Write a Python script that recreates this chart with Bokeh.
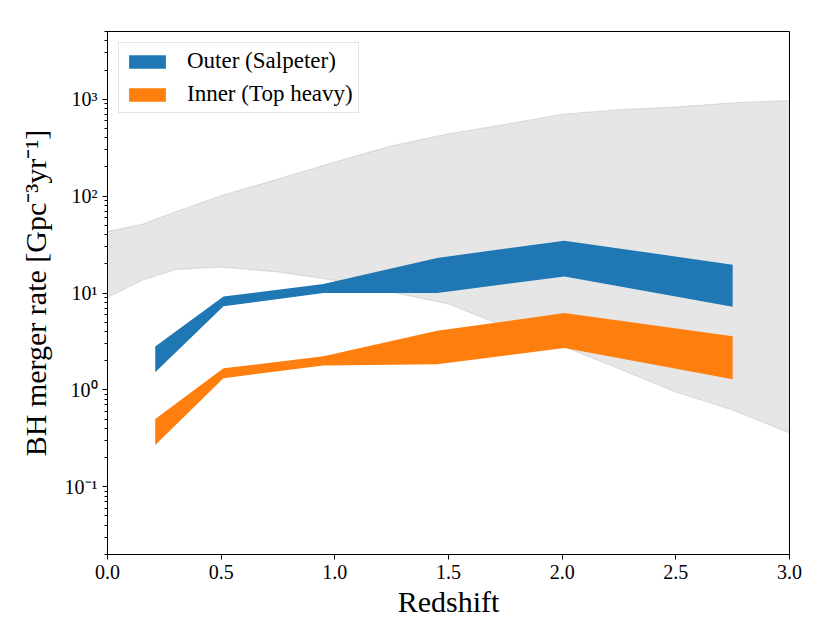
from bokeh.plotting import figure
from bokeh.models import Range1d, FixedTicker, PrintfTickFormatter, CustomJSTickFormatter, Legend, LegendItem
from bokeh.embed import file_html
from bokeh.resources import INLINE

# ---- data ----
grey_x = [0.0, 0.15, 0.3, 0.5, 0.75, 1.0, 1.25, 1.5, 1.75, 2.0, 2.25, 2.5, 2.75, 3.0]
grey_upper = [43, 51, 69, 101, 150, 225, 330, 440, 550, 700, 780, 830, 920, 970]
grey_lower = [9.0, 13.5, 17.5, 18.5, 16.5, 13.5, 10.2, 7.7, 4.5, 2.85, 1.65, 0.95, 0.62, 0.36]

band_z = [0.21, 0.51, 0.95, 1.45, 2.01, 2.75]
outer_upper = [2.8, 9.2, 12.4, 23.0, 34.7, 19.6]
outer_lower = [1.52, 7.3, 10.0, 10.0, 14.8, 7.2]
inner_upper = [0.50, 1.67, 2.22, 4.08, 6.2, 3.57]
inner_lower = [0.27, 1.32, 1.79, 1.84, 2.7, 1.29]

x_ticks = [0.0, 0.5, 1.0, 1.5, 2.0, 2.5, 3.0]
y_major = [0.1, 1, 10, 100, 1000]
y_minor = [m * 10.0 ** e for e in range(-2, 4) for m in range(2, 10)]

labels = ["Outer (Salpeter)", "Inner (Top heavy)"]
FONT = "Liberation Serif"

p = figure(width=830, height=623, frame_width=682, frame_height=523,
           y_axis_type="log", x_range=Range1d(0, 3), y_range=Range1d(0.02, 5000),
           output_backend="svg", toolbar_location=None,
           min_border_left=107, min_border_right=41, min_border_top=31, min_border_bottom=69)
p.background_fill_color = "white"
p.border_fill_color = "white"
p.outline_line_color = "black"
p.outline_line_width = 1
p.xgrid.visible = False
p.ygrid.visible = False

# grey envelope
p.varea(x=grey_x, y1=grey_lower, y2=grey_upper, fill_color="#808080", fill_alpha=0.2)
p.line(grey_x, grey_upper, line_color="#808080", line_alpha=0.2, line_width=1.2)
p.line(grey_x, grey_lower, line_color="#808080", line_alpha=0.2, line_width=1.2)

r_outer = p.varea(x=band_z, y1=outer_lower, y2=outer_upper, fill_color="#1f77b4")
r_inner = p.varea(x=band_z, y1=inner_lower, y2=inner_upper, fill_color="#ff7f0e")

legend = Legend(items=[LegendItem(label=labels[0], renderers=[r_outer]),
                       LegendItem(label=labels[1], renderers=[r_inner])],
                location="top_left")
legend.margin = 11
legend.padding = 5
legend.spacing = 7
legend.glyph_width = 46
legend.glyph_height = 17
legend.label_height = 20
legend.label_standoff = 17
legend.label_text_font = FONT
legend.label_text_font_size = "23px"
legend.label_text_color = "black"
legend.border_line_color = "#cccccc"
legend.border_line_width = 1
legend.background_fill_alpha = 0.8
p.add_layout(legend)

# axes
xa = p.xaxis[0]
xa.ticker = FixedTicker(ticks=x_ticks)
xa.formatter = PrintfTickFormatter(format="%.1f")
xa.axis_label = "Redshift"

ya = p.yaxis[0]
ya.ticker = FixedTicker(ticks=y_major, minor_ticks=y_minor)
ya.formatter = CustomJSTickFormatter(code="""
const e = Math.round(Math.log10(tick));
const sup = {'-':'\u207b','0':'\u2070','1':'\u00b9','2':'\u00b2','3':'\u00b3','4':'\u2074','5':'\u2075','6':'\u2076','7':'\u2077','8':'\u2078','9':'\u2079'};
return '10' + String(e).split('').map(c => sup[c]).join('');
""")
ya.axis_label = "BH merger rate [Gpc\u207b\u00b3yr\u207b\u00b9]"

for ax in (xa, ya):
    ax.axis_line_color = "black"
    ax.major_tick_line_color = "black"
    ax.major_tick_out = 5
    ax.major_tick_in = 0
    ax.minor_tick_out = 3
    ax.minor_tick_in = 0
    ax.major_label_text_font = FONT
    ax.major_label_text_font_size = "20px"
    ax.major_label_text_color = "black"
    ax.axis_label_text_font = FONT
    ax.axis_label_text_font_size = "30px"
    ax.axis_label_text_font_style = "normal"
    ax.axis_label_text_color = "black"
xa.minor_tick_line_color = None
ya.minor_tick_line_color = "black"
xa.major_label_standoff = 5
xa.axis_label_standoff = 3
ya.major_label_standoff = 5
ya.axis_label_standoff = 10

open("out.html", "w").write(file_html(p, INLINE))
